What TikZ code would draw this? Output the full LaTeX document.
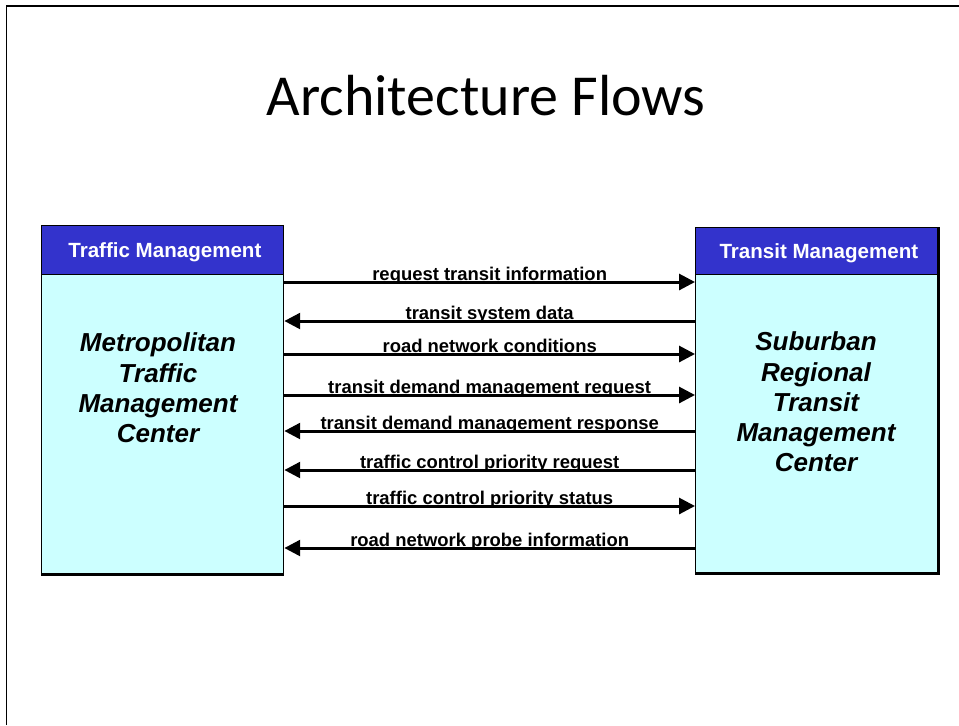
\documentclass[tikz,border=0pt]{standalone}
\usepackage{fontspec}
\setsansfont{Liberation Sans}
\newfontfamily\titlefont{Carlito}
\usetikzlibrary{arrows.meta}
\definecolor{hdrblue}{RGB}{51,51,204}
\definecolor{bodycyan}{RGB}{204,255,255}
\begin{document}
\begin{tikzpicture}[x=0.02cm, y=0.02cm,
	hdr/.style={draw=black, line width=0.8pt, fill=hdrblue, text=white, anchor=north west,
		minimum width=4.84cm, inner sep=0pt, text depth=0pt,
		font=\sffamily\bfseries\fontsize{11.7}{14}\selectfont},
	body/.style={draw=black, line width=0.8pt, fill=bodycyan, anchor=north west,
		minimum width=4.84cm, inner sep=0pt},
	centername/.style={align=center, inner sep=0pt,
		font=\sffamily\bfseries\itshape\fontsize{14.8}{17.2}\selectfont},
	flow/.style={black, line width=1.7pt, -{Triangle[length=9pt,width=9pt]}},
	backflow/.style={black, line width=1.7pt, {Triangle[length=9pt,width=9pt]}-},
	flowlabel/.style={anchor=base, yshift=1pt, inner sep=0pt,
		font=\sffamily\bfseries\fontsize{10.5}{12}\selectfont}]
				\useasboundingbox (0,0) rectangle (959,-725);
				\draw [black, line width=1.1pt] (6.5,-725) -- (6.5,-6) -- (959,-6);
				\node [anchor=base] (title) at (486,-115) {\titlefont\fontsize{33}{40}\selectfont Architecture Flows};
				% traffic management side
				\node [hdr, minimum height=0.98cm] (tmhdr) at (41,-225) {\hspace{2.5pt}Traffic Management};
				\node [body, minimum height=5.98cm] (tmc) at (41,-274) {};
				\draw [black, line width=1.6pt] (tmc.south west) -- (tmc.south east);
				\node [centername] (tmcname) at (158,-388) {Metropolitan\\Traffic\\Management\\Center};
				% transit management side
				\node [hdr, minimum height=0.94cm] (tshdr) at (695,-227) {\hspace{2.5pt}Transit Management};
				\node [body, minimum height=5.96cm] (stmc) at (695,-274) {};
				\draw [black, line width=1.4pt] (tshdr.north east) -- (stmc.south east) -- (stmc.south west);
				\node [centername] (stmcname) at (816,-402) {Suburban\\Regional\\Transit\\Management\\Center};
				% flows
				\coordinate (f1) at (0,-282);
				\coordinate (f2) at (0,-321);
				\coordinate (f3) at (0,-354);
				\coordinate (f4) at (0,-395);
				\coordinate (f5) at (0,-431);
				\coordinate (f6) at (0,-470);
				\coordinate (f7) at (0,-506);
				\coordinate (f8) at (0,-548);
				\draw [flow] (tmc.east |- f1) -- (stmc.west |- f1) node [flowlabel, midway] {request transit information};
				\draw [backflow] (tmc.east |- f2) -- (stmc.west |- f2) node [flowlabel, midway] {transit system data};
				\draw [flow] (tmc.east |- f3) -- (stmc.west |- f3) node [flowlabel, midway] {road network conditions};
				\draw [flow] (tmc.east |- f4) -- (stmc.west |- f4) node [flowlabel, midway] {transit demand management request};
				\draw [backflow] (tmc.east |- f5) -- (stmc.west |- f5) node [flowlabel, midway] {transit demand management response};
				\draw [backflow] (tmc.east |- f6) -- (stmc.west |- f6) node [flowlabel, midway] {traffic control priority request};
				\draw [flow] (tmc.east |- f7) -- (stmc.west |- f7) node [flowlabel, midway] {traffic control priority status};
				\draw [backflow] (tmc.east |- f8) -- (stmc.west |- f8) node [flowlabel, midway] {road network probe information};
\end{tikzpicture}
\end{document}
